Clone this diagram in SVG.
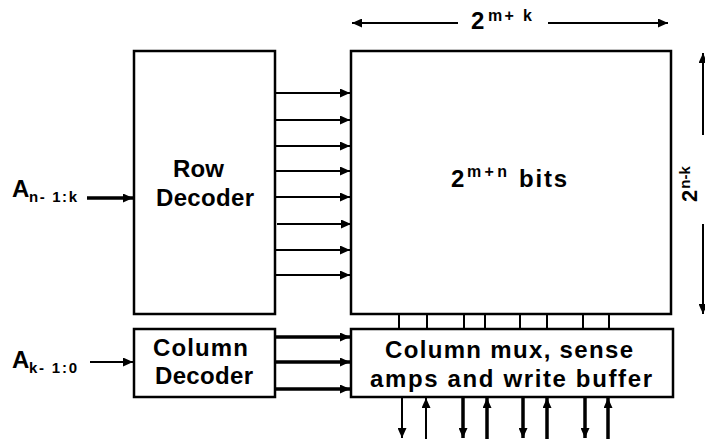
<svg xmlns="http://www.w3.org/2000/svg" width="705" height="439" viewBox="0 0 705 439">
<style>
.box{fill:#fff;stroke:#000;stroke-width:2.5}
.t{font-family:"Liberation Sans",Arial,sans-serif;font-weight:bold;font-size:24px;fill:#000}
.s{font-size:16px}
.sub{font-size:15px}
.ln{stroke:#000;stroke-width:2;fill:none}
.thk{stroke:#000;stroke-width:3.5;fill:none}
</style>
<defs>
<marker id="ah" viewBox="0 0 10 9" refX="10" refY="4.5" markerWidth="11" markerHeight="9" markerUnits="userSpaceOnUse" orient="auto">
<path d="M0,0 L10,4.5 L0,9 z" fill="#000"/>
</marker>
</defs>
<rect width="705" height="439" fill="#fff"/>

<g id="row-decoder">
<rect class="box" x="134" y="51" width="141" height="263"/>
<text class="t" x="173" y="177" textLength="51" lengthAdjust="spacing">Row</text>
<text class="t" x="156" y="206" textLength="98" lengthAdjust="spacing">Decoder</text>
</g>

<g id="memory-array">
<rect class="box" x="351" y="51" width="320" height="263"/>
<text class="t" x="451" y="187">2</text>
<text class="t s" x="467" y="177" textLength="40" lengthAdjust="spacing">m+n</text>
<text class="t" x="519" y="187" textLength="48" lengthAdjust="spacing">bits</text>
</g>

<g id="column-decoder">
<rect class="box" x="134" y="329" width="141" height="68"/>
<text class="t" x="153" y="356" textLength="95" lengthAdjust="spacing">Column</text>
<text class="t" x="155" y="384" textLength="98" lengthAdjust="spacing">Decoder</text>
</g>

<g id="column-mux">
<rect class="box" x="351" y="329" width="322" height="68"/>
<text class="t" x="385" y="358" textLength="248" lengthAdjust="spacing">Column mux, sense</text>
<text class="t" x="370" y="387" textLength="282" lengthAdjust="spacing">amps and write buffer</text>
</g>

<g id="addr-row-label">
<text class="t" x="12" y="197">A</text>
<text class="t sub" x="29" y="202" textLength="48" lengthAdjust="spacing">n- 1:k</text>
</g>
<g id="addr-col-label">
<text class="t" x="12" y="368">A</text>
<text class="t sub" x="29" y="373" textLength="48" lengthAdjust="spacing">k- 1:0</text>
</g>

<g id="width-label">
<text class="t" x="471" y="29">2</text>
<text class="t s" x="488" y="21" textLength="44" lengthAdjust="spacing">m+ k</text>
</g>
<g id="height-label">
<text class="t" style="font-size:22px" transform="translate(697,202) rotate(-90)">2<tspan class="sub" dy="-7" dx="1">n-k</tspan></text>
</g>

<g id="connectors">
<line class="thk" x1="87" y1="198" x2="133" y2="198" marker-end="url(#ah)"/>
<line class="ln" x1="90" y1="362" x2="133" y2="362" marker-end="url(#ah)"/>
<g class="ln">
<line x1="275" y1="93" x2="350" y2="93" marker-end="url(#ah)"/>
<line x1="275" y1="120" x2="350" y2="120" marker-end="url(#ah)"/>
<line x1="275" y1="146" x2="350" y2="146" marker-end="url(#ah)"/>
<line x1="275" y1="171" x2="350" y2="171" marker-end="url(#ah)"/>
<line x1="275" y1="197" x2="350" y2="197" marker-end="url(#ah)"/>
<line x1="277" y1="224" x2="351" y2="224" marker-end="url(#ah)"/>
<line x1="275" y1="250" x2="350" y2="250" marker-end="url(#ah)"/>
<line x1="275" y1="275" x2="350" y2="275" marker-end="url(#ah)"/>
</g>
<g class="thk">
<line x1="275" y1="337" x2="350" y2="337" marker-end="url(#ah)"/>
<line x1="275" y1="362" x2="350" y2="362" marker-end="url(#ah)"/>
<line x1="275" y1="389" x2="350" y2="389" marker-end="url(#ah)"/>
</g>
<g class="ln">
<line x1="399" y1="314" x2="399" y2="329"/>
<line x1="427" y1="314" x2="427" y2="329"/>
<line x1="464" y1="314" x2="464" y2="329"/>
<line x1="485" y1="314" x2="485" y2="329"/>
<line x1="520" y1="314" x2="520" y2="329"/>
<line x1="547" y1="314" x2="547" y2="329"/>
<line x1="583" y1="314" x2="583" y2="329"/>
<line x1="609" y1="314" x2="609" y2="329"/>
</g>
<line class="ln" x1="402" y1="397" x2="402" y2="438" marker-end="url(#ah)"/>
<line class="ln" x1="426" y1="439" x2="426" y2="398" marker-end="url(#ah)"/>
<g class="thk">
<line x1="463" y1="397" x2="463" y2="438" marker-end="url(#ah)"/>
<line x1="487" y1="439" x2="487" y2="398" marker-end="url(#ah)"/>
<line x1="523" y1="397" x2="523" y2="438" marker-end="url(#ah)"/>
<line x1="547" y1="439" x2="547" y2="398" marker-end="url(#ah)"/>
<line x1="585" y1="397" x2="585" y2="438" marker-end="url(#ah)"/>
<line x1="608" y1="439" x2="608" y2="398" marker-end="url(#ah)"/>
</g>
<line class="ln" x1="458" y1="23" x2="352" y2="23" marker-end="url(#ah)"/>
<line class="ln" x1="548" y1="23" x2="668" y2="23" marker-end="url(#ah)"/>
<line class="ln" x1="703" y1="135" x2="703" y2="53" marker-end="url(#ah)"/>
<line class="ln" x1="703" y1="224" x2="703" y2="314" marker-end="url(#ah)"/>
</g>
</svg>
